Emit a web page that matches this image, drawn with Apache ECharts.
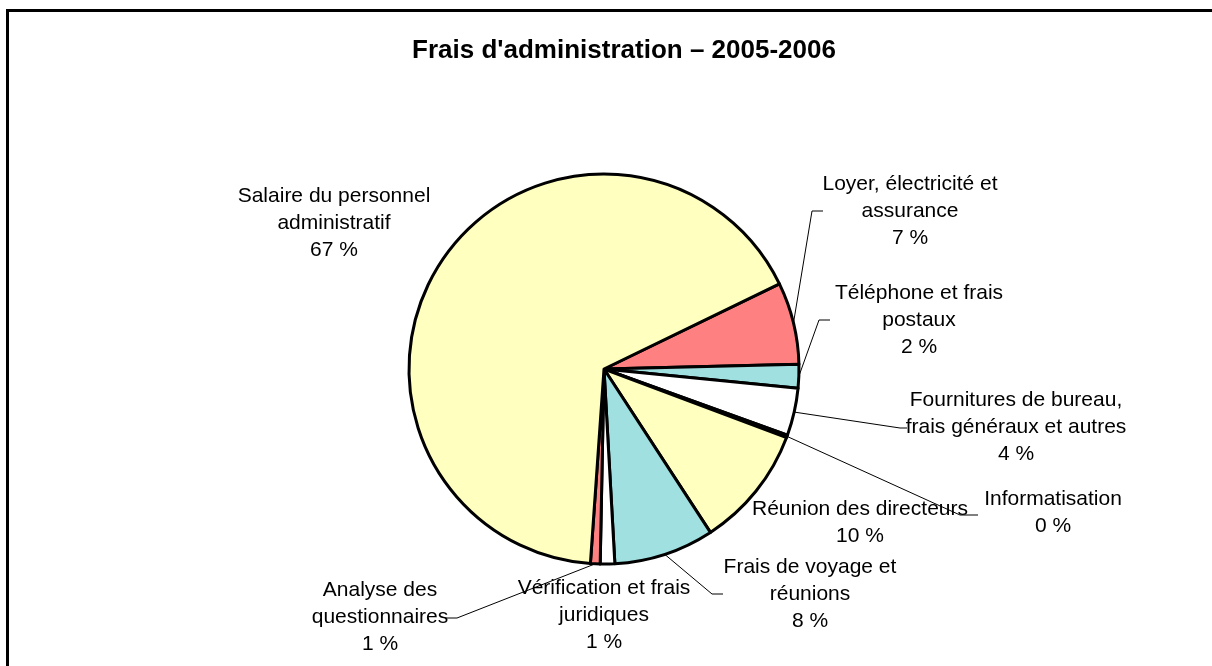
<!DOCTYPE html>
<html>
<head>
<meta charset="utf-8">
<script src="https://cdn.jsdelivr.net/npm/echarts@6/dist/echarts.min.js"></script>
<style>
  html, body { margin: 0; padding: 0; background: #fff; }
  #chart { width: 1212px; height: 666px; }
</style>
</head>
<body>
<div id="chart"></div>
<script>
// slices, clockwise from the top-right edge of the salary slice
var names = [
	'Loyer, électricité et\nassurance',
	'Téléphone et frais\npostaux',
	'Fournitures de bureau,\nfrais généraux et autres',
	'Informatisation',
	'Réunion des directeurs',
	'Frais de voyage et\nréunions',
	'Vérification et frais\njuridiques',
	'Analyse des\nquestionnaires',
	'Salaire du personnel\nadministratif'
];
var values = [6.8, 1.97, 3.94, 0.2, 10.1, 8.3, 1.2, 0.8, 66.7];
var colors = ['#FF8080', '#A0E0E0', '#FFFFFF', '#FFFFC0', '#FFFFC0', '#A0E0E0', '#FFFFFF', '#FF8080', '#FFFFC0'];

// where each label sits, and the elbow / end of its leader line (null = no line)
var labelSpots = [
	{ x: 910, y: 211, line: [[812, 211], [823, 211]] },
	{ x: 919, y: 320, line: [[819, 320], [830, 320]] },
	{ x: 1016, y: 427, line: [[900, 428], [907, 428]] },
	{ x: 1053, y: 513, line: [[960, 515], [978, 515]] },
	{ x: 860, y: 523, line: null },
	{ x: 810, y: 594, line: [[712, 594], [723, 594]] },
	{ x: 604, y: 615, line: null },
	{ x: 380, y: 617, line: [[457, 618], [445, 618]] },
	{ x: 334, y: 223, line: null }
];

var myChart = echarts.init(document.getElementById('chart'));

var pieData = [];
for (var i = 0; i < values.length; i++) {
	pieData.push({
		name: names[i],
		value: values[i],
		itemStyle: { color: colors[i] },
		labelLine: { show: labelSpots[i].line != null }
	});
}

var option = {
	backgroundColor: '#fff',
	animation: false,
	title: {
		text: "Frais d'administration – 2005-2006",
		left: 619,
		top: 33,
		textAlign: 'center',
		textStyle: {
			fontFamily: 'Liberation Sans',
			fontSize: 26,
			fontWeight: 'bold',
			color: '#000'
		}
	},
	graphic: [{
		type: 'rect',
		shape: { x: 7.5, y: 10.5, width: 1400, height: 1000 },
		style: { fill: null, stroke: '#000', lineWidth: 3 },
		silent: true
	}],
	series: [{
		type: 'pie',
		center: [604, 369],
		radius: 195,
		startAngle: 25.9,
		clockwise: true,
		percentPrecision: 0,
		avoidLabelOverlap: false,
		emphasis: { disabled: true },
		itemStyle: {
			borderColor: '#000',
			borderWidth: 3
		},
		label: {
			show: true,
			position: 'outside',
			formatter: '{b}\n{d} %',
			fontFamily: 'Liberation Sans',
			fontSize: 21,
			lineHeight: 27,
			color: '#000',
			align: 'center'
		},
		labelLine: {
			show: true,
			length: 10,
			length2: 10,
			lineStyle: { color: '#000', width: 1 }
		},
		labelLayout: function (params) {
			var spot = labelSpots[params.dataIndex];
			var res = {
				x: spot.x,
				y: spot.y,
				align: 'center',
				verticalAlign: 'middle'
			};
			if (spot.line && params.labelLinePoints) {
				res.labelLinePoints = [params.labelLinePoints[0], spot.line[0], spot.line[1]];
			}
			return res;
		},
		data: pieData
	}]
};

myChart.setOption(option);
</script>
</body>
</html>
